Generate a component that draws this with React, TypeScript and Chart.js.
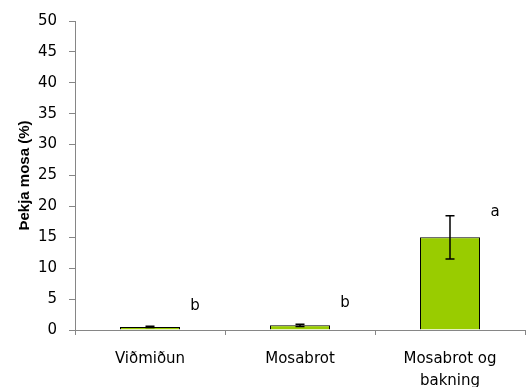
import React, { useEffect, useRef } from "react";
import { Chart, registerables } from "chart.js";

Chart.register(...registerables);

const categories: (string | string[])[] = ["Viðmiðun", "Mosabrot", ["Mosabrot og", "bakning"]];
const values: number[] = [0.5, 0.75, 15];
const errors: number[] = [0.1, 0.2, 3.5];
const letters: string[] = ["b", "b", "a"];
const letterLevels: number[] = [3.2, 3.7, 18.4];
const yTitle = "Þekja mosa (%)";

const AXIS = "#868686";
const BAR = "#99CC00";
const W = 531;
const H = 395;

const annotPlugin = {
  id: "annot",
  afterDatasetsDraw(chart: any) {
    const ctx = chart.ctx;
    const meta = chart.getDatasetMeta(0);
    const y = chart.scales.y;
    const x = chart.scales.x;
    const catW = x.width / categories.length;
    ctx.save();
    ctx.strokeStyle = "#000";
    ctx.lineWidth = 1.5;
    meta.data.forEach((bar: any, i: number) => {
      const top = y.getPixelForValue(values[i] + errors[i]);
      const bot = y.getPixelForValue(values[i] - errors[i]);
      ctx.beginPath();
      ctx.moveTo(bar.x, top);
      ctx.lineTo(bar.x, bot);
      ctx.moveTo(bar.x - 4.5, top);
      ctx.lineTo(bar.x + 4.5, top);
      ctx.moveTo(bar.x - 4.5, bot);
      ctx.lineTo(bar.x + 4.5, bot);
      ctx.stroke();
    });
    ctx.fillStyle = "#000";
    ctx.font = "15px 'DejaVu Sans'";
    ctx.textAlign = "center";
    ctx.textBaseline = "alphabetic";
    meta.data.forEach((bar: any, i: number) => {
      ctx.fillText(letters[i], bar.x + catW * 0.3, y.getPixelForValue(letterLevels[i]));
    });
    ctx.restore();
  },
};

export default function App() {
  const ref = useRef<HTMLCanvasElement>(null);
  useEffect(() => {
    if (!ref.current) return;
    const chart = new Chart(ref.current, {
      type: "bar",
      data: {
        labels: categories,
        datasets: [
          {
            data: values,
            backgroundColor: BAR,
            borderColor: "#000",
            borderWidth: 1,
            categoryPercentage: 1,
            barPercentage: 0.4,
          },
        ],
      },
      options: {
        responsive: false,
        animation: false,
        devicePixelRatio: 1,
        layout: { padding: { left: 0, top: 18, right: 6, bottom: 0 } },
        plugins: { legend: { display: false }, tooltip: { enabled: false } },
        scales: {
          x: {
            afterFit: (s: any) => {
              s.height = H - 330;
            },
            grid: {
              display: true,
              drawOnChartArea: false,
              drawTicks: true,
              tickLength: 5,
              color: AXIS,
              offset: true,
            },
            border: { color: AXIS, width: 1 },
            ticks: {
              color: "#000",
              font: { family: "'DejaVu Sans'", size: 15, lineHeight: 1.45 },
              padding: 13,
              maxRotation: 0,
              autoSkip: false,
            },
          },
          y: {
            min: 0,
            max: 50,
            afterFit: (s: any) => {
              s.width = 75;
            },
            grid: {
              display: true,
              drawOnChartArea: false,
              drawTicks: true,
              tickLength: 6,
              color: AXIS,
            },
            border: { color: AXIS, width: 1 },
            ticks: {
              stepSize: 5,
              color: "#000",
              font: { family: "'DejaVu Sans'", size: 15 },
              padding: 12,
            },
            title: {
              display: true,
              text: yTitle,
              color: "#000",
              font: { family: "'Liberation Sans'", size: 15, weight: "bold" },
              padding: { top: 16, bottom: 0 },
            },
          },
        },
      },
      plugins: [annotPlugin],
    } as any);
    return () => chart.destroy();
  }, []);
  return (
    <div style={{ position: "fixed", left: 0, top: 0, width: W, height: H, background: "#fff" }}>
      <canvas ref={ref} width={W} height={H} style={{ display: "block" }} />
    </div>
  );
}
